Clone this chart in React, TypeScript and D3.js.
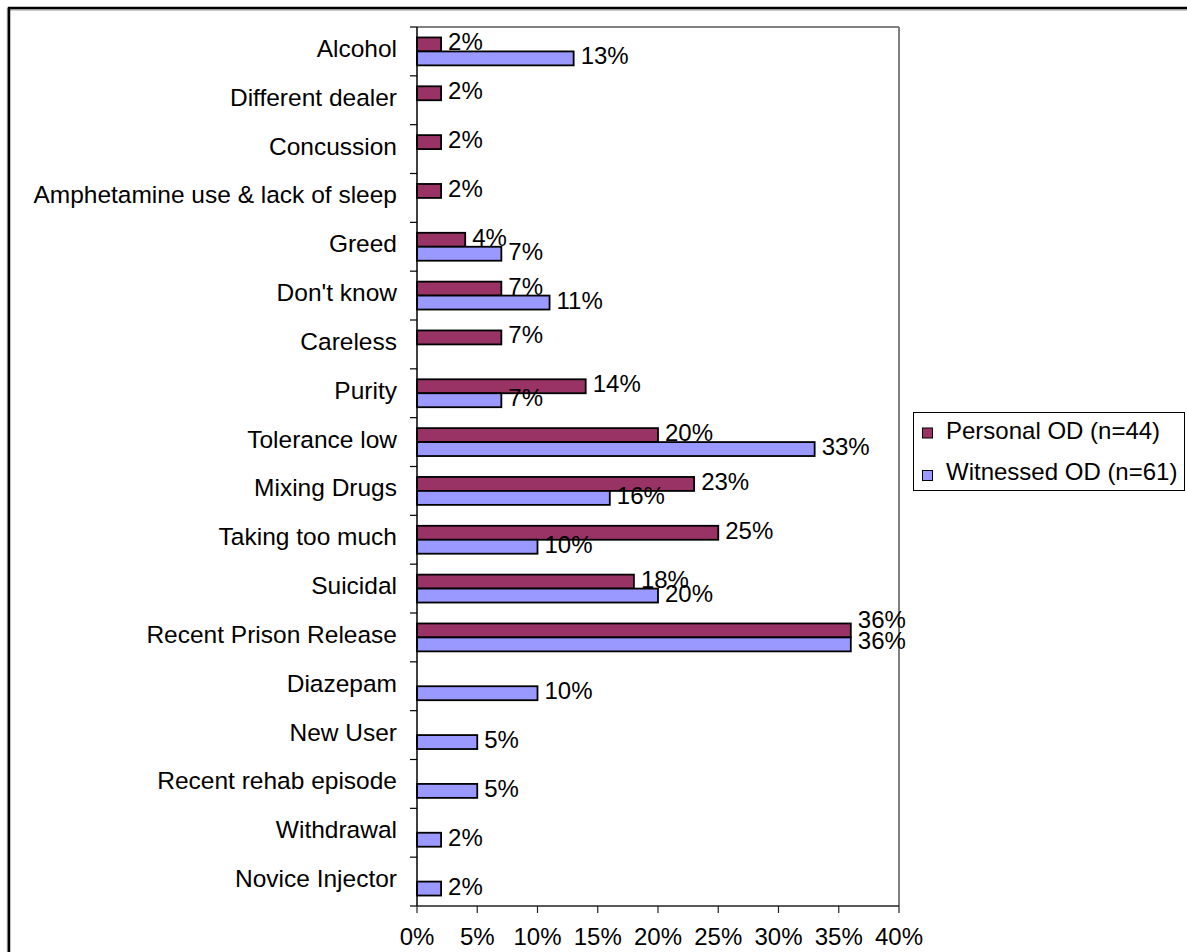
import React from "react";
import * as d3 from "d3";

const categories = [
  "Alcohol",
  "Different dealer",
  "Concussion",
  "Amphetamine use & lack of sleep",
  "Greed",
  "Don't know",
  "Careless",
  "Purity",
  "Tolerance low",
  "Mixing Drugs",
  "Taking too much",
  "Suicidal",
  "Recent Prison Release",
  "Diazepam",
  "New User",
  "Recent rehab episode",
  "Withdrawal",
  "Novice Injector",
];

const personalOD: (number | null)[] = [2, 2, 2, 2, 4, 7, 7, 14, 20, 23, 25, 18, 36, null, null, null, null, null];
const witnessedOD: (number | null)[] = [13, null, null, null, 7, 11, null, 7, 33, 16, 10, 20, 36, 10, 5, 5, 2, 2];

const seriesNames = ["Personal OD (n=44)", "Witnessed OD (n=61)"];
const seriesColors = ["#993366", "#9999FF"];
const xTicks = [0, 5, 10, 15, 20, 25, 30, 35, 40];

const W = 1187;
const H = 952;
const FONT = "'Liberation Sans', Arial, sans-serif";
const FS = 24;
const FS_CAT = 24.5;

export default function App() {
  const plotLeft = 417;
  const plotRight = 899;
  const plotTop = 27;
  const plotBottom = 906;

  const x = d3.scaleLinear().domain([0, 40]).range([plotLeft, plotRight]);
  const y = d3.scaleBand<string>().domain(categories).range([plotTop, plotBottom]).padding(0);
  const inner = d3
    .scaleBand<string>()
    .domain(seriesNames)
    .range([0, y.bandwidth()])
    .paddingInner(0)
    .paddingOuter(0.75);

  const series = [personalOD, witnessedOD];
  const boundaries = categories.map((c) => y(c) as number).concat([plotBottom]);

  // nudge labels apart when both series share the same value in a category
  const labelNudge = (i: number, si: number) => {
    const a = personalOD[i];
    const b = witnessedOD[i];
    if (a != null && b != null && a === b) return si === 0 ? -8 : -1;
    return 0;
  };

  return (
    <svg
      width={W}
      height={H}
      style={{ position: "absolute", left: 0, top: 0, background: "#fff" }}
      fontFamily={FONT}
    >
      <rect x={0} y={0} width={W} height={H} fill="#fff" />
      {/* outer chart border */}
      <line x1={7.3} y1={8} x2={7.3} y2={H} stroke="#999" strokeWidth={1} />
      <line x1={9} y1={10} x2={W} y2={10} stroke="#999" strokeWidth={1} />
      <rect x={9} y={8} width={W + 20} height={H + 20} fill="none" stroke="#000" strokeWidth={2.5} />

      {/* plot area border (top/right) */}
      <line x1={plotLeft} y1={plotTop} x2={plotRight} y2={plotTop} stroke="#808080" strokeWidth={2} />
      <line x1={plotRight} y1={plotTop} x2={plotRight} y2={plotBottom} stroke="#808080" strokeWidth={2} />

      {/* bars */}
      {categories.map((c, i) =>
        series.map((s, si) => {
          const v = s[i];
          if (v == null) return null;
          const by = (y(c) as number) + (inner(seriesNames[si]) as number);
          const bh = inner.bandwidth();
          return (
            <rect
              key={`b-${i}-${si}`}
              x={x(0)}
              y={by}
              width={x(v) - x(0)}
              height={bh}
              fill={seriesColors[si]}
              stroke="#000"
              strokeWidth={1.8}
            />
          );
        })
      )}

      {/* value labels */}
      {categories.map((c, i) =>
        series.map((s, si) => {
          const v = s[i];
          if (v == null) return null;
          const by = (y(c) as number) + (inner(seriesNames[si]) as number);
          const bh = inner.bandwidth();
          return (
            <text
              key={`l-${i}-${si}`}
              x={x(v) + 7}
              y={by + bh / 2 + 6 + labelNudge(i, si)}
              fontSize={FS}
              fill="#000"
            >
              {`${v}%`}
            </text>
          );
        })
      )}

      {/* y axis */}
      <line x1={plotLeft} y1={plotTop} x2={plotLeft} y2={plotBottom} stroke="#000" strokeWidth={1.5} />
      {boundaries.map((b, i) => (
        <line key={`yt-${i}`} x1={plotLeft - 7} y1={b} x2={plotLeft} y2={b} stroke="#000" strokeWidth={1.2} />
      ))}
      {categories.map((c) => (
        <text
          key={`yl-${c}`}
          x={397}
          y={(y(c) as number) + y.bandwidth() / 2 + 5.5}
          textAnchor="end"
          fontSize={FS_CAT}
          fill="#000"
        >
          {c}
        </text>
      ))}

      {/* x axis */}
      <line x1={plotLeft} y1={plotBottom} x2={plotRight} y2={plotBottom} stroke="#222" strokeWidth={1.5} />
      {xTicks.map((t) => (
        <g key={`xt-${t}`}>
          <line x1={x(t)} y1={plotBottom} x2={x(t)} y2={plotBottom + 7} stroke="#222" strokeWidth={1.2} />
          <text x={x(t)} y={945} textAnchor="middle" fontSize={FS} fill="#000">
            {`${t}%`}
          </text>
        </g>
      ))}

      {/* legend */}
      <rect x={913.5} y={412.5} width={271} height={78} fill="#fff" stroke="#000" strokeWidth={1} />
      {seriesNames.map((n, i) => (
        <g key={`lg-${i}`}>
          <rect
            x={922.5}
            y={428 + i * 42.5}
            width={10}
            height={10}
            fill={seriesColors[i]}
            stroke="#000"
            strokeWidth={1}
          />
          <text x={946} y={439 + i * 41} fontSize={FS} fill="#000">
            {n}
          </text>
        </g>
      ))}
    </svg>
  );
}
